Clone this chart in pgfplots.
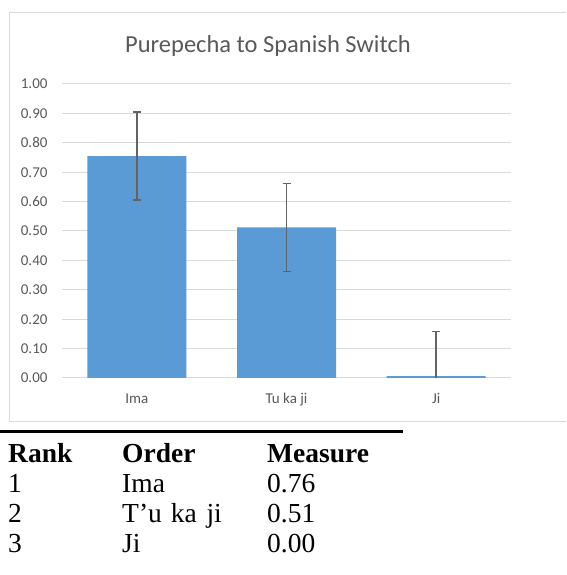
\documentclass[border=0pt]{standalone}
\usepackage{fontspec}
\setmainfont{Carlito}
\newfontfamily\tabfont{Liberation Serif}
\usepackage{pgfplots}
\pgfplotsset{compat=1.18}
\definecolor{barblue}{HTML}{5B9BD5}
\definecolor{txtgray}{HTML}{595959}
\definecolor{gridgray}{HTML}{D9D9D9}
\definecolor{errgray}{HTML}{636363}
\begin{document}
\begin{tikzpicture}[x=1pt,y=1pt]
\useasboundingbox (0,0) rectangle (566,575);
\fill[white] (0,0) rectangle (566,575);
\draw[gridgray, line width=1pt] (566,562) -- (9,562) -- (9,153) -- (566,153);
\node[txtgray, anchor=base, font=\fontsize{24.5}{29}\selectfont] at (268,522.3) {Purepecha to Spanish Switch};
\begin{axis}[
  at={(62pt,197pt)}, anchor=south west,
  width=449pt, height=294pt, scale only axis,
  xmin=-0.5, xmax=2.5, ymin=0, ymax=1,
  axis line style={draw=none},
  major tick length=0pt,
  ytick={0,0.1,0.2,0.3,0.4,0.5,0.6,0.7,0.8,0.9,1.0},
  yticklabel style={/pgf/number format/fixed, /pgf/number format/fixed zerofill, /pgf/number format/precision=2, /pgf/number format/assume math mode=true, font=\fontsize{15}{18}\selectfont, text=txtgray, xshift=-11pt},
  xtick={0,1,2}, xticklabels={Ima, Tu ka ji, Ji},
  xticklabel style={font=\fontsize{15}{18}\selectfont, text=txtgray, yshift=-12pt},
  ymajorgrids, grid style={gridgray, line width=1pt},
  ybar, bar width=99pt,
]
\addplot[fill=barblue, draw=none,
  error bars/.cd, y dir=both, y explicit,
  error bar style={errgray, line width=1.4pt},
  error mark options={errgray, rotate=90, mark size=4pt, line width=1.4pt}]
  coordinates {(0,0.755) +- (0,0.15) (1,0.512) +- (0,0.15) (2,0.006) +- (0,0.152)};
\end{axis}
\draw[black, line width=2.7pt] (0,143.3) -- (403,143.3);
\begin{scope}[every node/.style={anchor=base west, inner sep=0pt, font=\tabfont\fontsize{27.5}{32}\selectfont}]
\node[font=\tabfont\bfseries\fontsize{27.5}{32}\selectfont] at (8,112.7) {Rank};
\node[font=\tabfont\bfseries\fontsize{27.5}{32}\selectfont] at (122,112.7) {Order};
\node[font=\tabfont\bfseries\fontsize{27.5}{32}\selectfont] at (267,112.7) {Measure};
\node at (8,82.5) {1};
\node at (122,82.5) {Ima};
\node at (267,82.5) {0.76};
\node at (8,52.5) {2};
\node at (122,52.5) {T’u\hspace{2pt} ka\hspace{3pt} ji};
\node at (267,52.5) {0.51};
\node at (8,22.5) {3};
\node at (122,22.5) {Ji};
\node at (267,22.5) {0.00};
\end{scope}
\end{tikzpicture}
\end{document}
